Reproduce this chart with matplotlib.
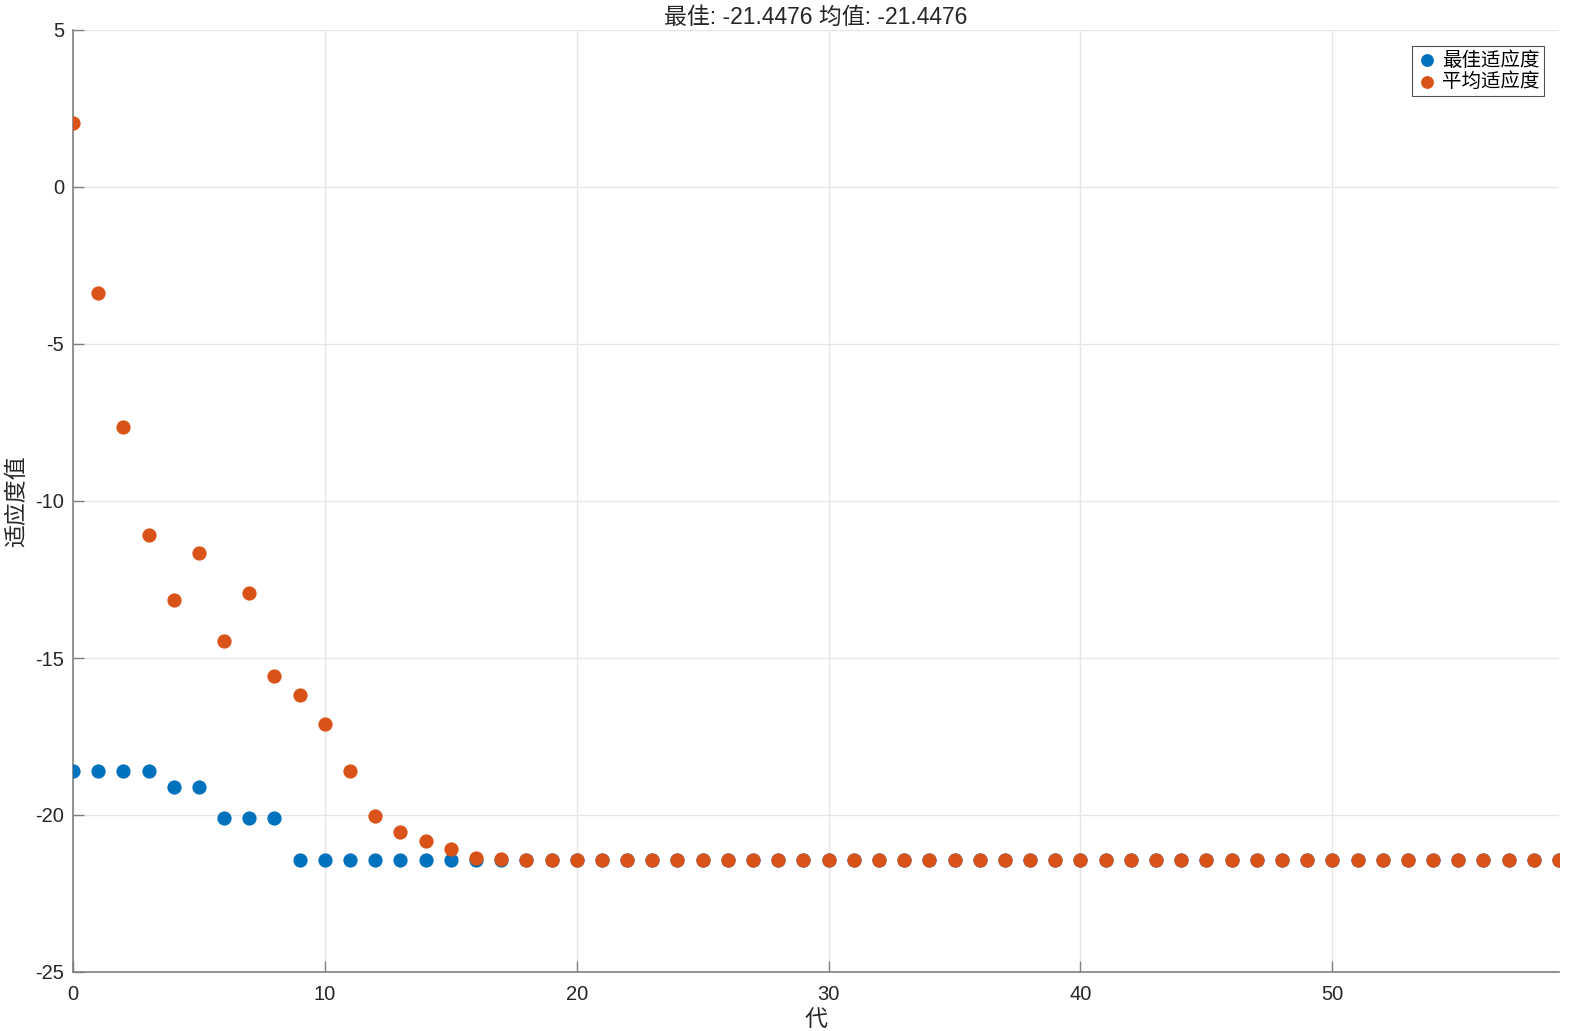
import matplotlib
matplotlib.use("Agg")
import matplotlib.pyplot as plt
import numpy as np

plt.rcParams['font.family'] = ['Liberation Sans', 'Noto Sans CJK SC', 'DejaVu Sans']
plt.rcParams['axes.unicode_minus'] = False

generations = list(range(60))
best_head = [-18.6, -18.6, -18.6, -18.6, -19.11, -19.11, -20.10, -20.10, -20.10]
best_fitness = best_head + [-21.4476] * (60 - len(best_head))
mean_head = [2.04, -3.38, -7.64, -11.08, -13.15, -11.66, -14.46, -12.93, -15.57,
             -16.18, -17.10, -18.60, -20.03, -20.54, -20.83, -21.08, -21.37, -21.41, -21.43]
mean_fitness = mean_head + [-21.4476] * (60 - len(mean_head))

xticks = [0, 10, 20, 30, 40, 50]
yticks = [5, 0, -5, -10, -15, -20, -25]

fig = plt.figure(figsize=(15.69, 10.31), dpi=100)
ax = fig.add_axes([73/1569, 1 - 972/1031, (1559-73)/1569, (972-30)/1031])

ax.scatter(generations, best_fitness, s=105, color='#0072BD', label='最佳适应度', zorder=3, linewidths=0)
ax.scatter(generations, mean_fitness, s=105, color='#D95319', label='平均适应度', zorder=4, linewidths=0)

ax.set_xlim(0, 59)
ax.set_ylim(-25, 5)
ax.set_xticks(xticks)
ax.set_yticks(yticks)
ax.tick_params(direction='in', length=8, width=1, colors='#808080', labelcolor='#262626', labelsize=14.5)
ax.tick_params(axis='x', pad=9)
ax.tick_params(axis='y', pad=6.5)
for s in ['top', 'right']:
    ax.spines[s].set_visible(False)
for s in ['left', 'bottom']:
    ax.spines[s].set_color('#808080')
    ax.spines[s].set_linewidth(1.2)
ax.grid(True, color='#e6e6e6', linewidth=1)
ax.set_axisbelow(True)

ax.set_xlabel('代', fontsize=16.5, color='#262626', labelpad=3.5)
ax.set_ylabel('适应度值', fontsize=16.5, color='#262626', labelpad=5)
ax.set_title('最佳: -21.4476 均值: -21.4476', fontsize=16.5, color='#262626', pad=4)

leg = ax.legend(loc='upper right', fontsize=14, frameon=True, fancybox=False,
                edgecolor='#262626', handletextpad=0.25, borderpad=0.25,
                labelspacing=0.15, handlelength=1.0, markerscale=0.9,
                borderaxespad=0, bbox_to_anchor=((1544-73)/1486, (972-46)/942))
leg.get_frame().set_linewidth(0.8)

fig.savefig('out.png', dpi=100, facecolor='white')
